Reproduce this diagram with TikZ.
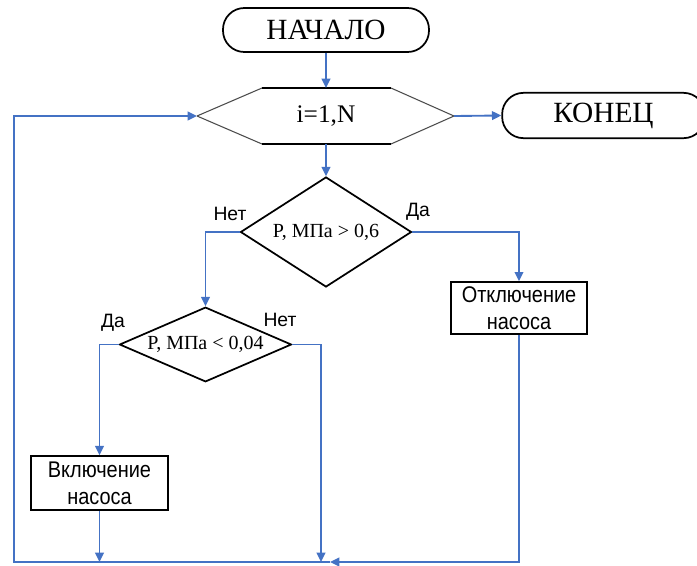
\documentclass[tikz,border=0pt]{standalone}
\usepackage{fontspec}
\setmainfont{Liberation Serif}
\newfontfamily\labelfont{Liberation Sans}
\newfontfamily\boxfont[FakeStretch=0.88]{Liberation Sans}
\usetikzlibrary{shapes.geometric,arrows.meta}

\definecolor{flowblue}{RGB}{68,114,196}

\tikzset{
  terminal/.style={draw,line width=1.3pt,rounded corners=16pt,minimum height=33pt,
    font=\fontsize{22}{24}\selectfont},
  decision/.style={draw,line width=1.3pt,diamond,inner sep=0pt,
    font=\fontsize{15}{17}\selectfont},
  process/.style={draw,line width=1.3pt,minimum width=102pt,minimum height=38pt,
    align=center,font=\boxfont\fontsize{17}{20}\selectfont},
  answer/.style={font=\labelfont\fontsize{14.5}{16}\selectfont},
  flow/.style={draw=flowblue,line width=1.4pt,
    -{Triangle[length=7pt,width=6.5pt]}},
  line/.style={draw=flowblue,line width=1.4pt}
}

\begin{document}
\begin{tikzpicture}[x=0.75pt,y=-0.75pt]
\useasboundingbox (0,0) rectangle (697,565);

% start, loop head, end
\node[terminal,minimum width=154.5pt] (start) at (326,30) {НАЧАЛО};
\node[font=\fontsize{19}{21}\selectfont] (loop) at (326,116) {i=1,N};
\coordinate (hexL) at (197,116);
\coordinate (hexR) at (454,116);
\coordinate (hexT) at (326,88);
\coordinate (hexB) at (326,144);
\draw[black!70,line width=0.8pt] (hexL)--(262,88) (391,88)--(hexR)--(391,144) (262,144)--(hexL);
\draw[line width=1.1pt] (262,88)--(391,88) (262,144)--(391,144);
\node[terminal,minimum width=152pt,minimum height=34pt] (end) at (603.5,115.5) {КОНЕЦ};

% pressure checks
\node[decision,aspect=1.5,minimum width=128.25pt,minimum height=82.5pt]
  (high) at (326,232) {P, МПа > 0,6};
\node[decision,aspect=2.3,minimum width=129pt,minimum height=56pt]
  (low) at (205.5,344.5) {P, МПа < 0,04};

% pump actions
\node[process] (off) at (519,308) {Отключение\\насоса};
\node[process,minimum width=103pt,minimum height=40.5pt] (on) at (99.5,483) {Включение\\насоса};

\node[answer] at (230,214) {Нет};
\node[answer] at (418,212) {Да};
\node[answer] at (113,323) {Да};
\node[answer] at (280,320) {Нет};

% bottom line and return
\coordinate (jR) at (330,562);
\coordinate (jM) at (321,562);
\coordinate (jL) at (99.5,562);
\coordinate (cornerB) at (14,562);
\coordinate (cornerT) at (14,116);

\draw[flow] (start) -- (hexT);
\draw[flow] (hexB) -- (high.north);
\draw[flow] (hexR) -- (end.west);
\draw[flow] (high.west) -| (low.north);
\draw[flow] (high.east) -| (off.north);
\draw[flow] (low.west) -| (on.north);
\draw[flow] (low.east) -| (jM);
\draw[flow] (on.south) -- (jL);
\draw[flow] (off.south) |- (jR);
\draw[flow] (jR) -- (cornerB) -- (cornerT) -- (hexL);

\end{tikzpicture}
\end{document}
